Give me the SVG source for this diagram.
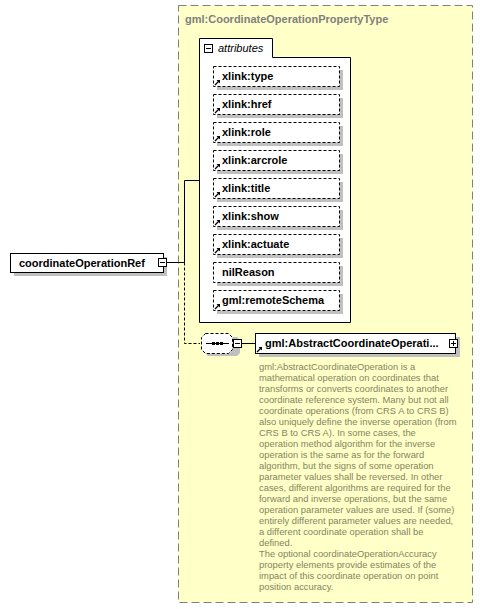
<svg xmlns="http://www.w3.org/2000/svg" width="484" height="609" viewBox="0 0 484 609">
<style>
.lbl{font-family:"Liberation Sans",Arial,sans-serif;font-size:11px;font-weight:bold;fill:#000}
.ttl{font-family:"Liberation Sans",Arial,sans-serif;font-size:11px;font-weight:bold;fill:#808080}
.it{font-family:"Liberation Sans",Arial,sans-serif;font-size:11px;font-style:italic;fill:#000}
.doc{font-family:"Liberation Sans",Arial,sans-serif;font-size:9.4px;fill:#85855e}
.att{fill:#fff;stroke:#000;stroke-width:1;stroke-dasharray:3,2}
.shd{fill:#c0c0c0}
.box{fill:#fff;stroke:#000;stroke-width:1}
.ln{stroke:#000;stroke-width:1;fill:none}
.dl{stroke:#000;stroke-width:1;fill:none;stroke-dasharray:3,2}
</style>
<defs>
<g id="ref">
<path d="M0,5 L4,1" stroke="#000" stroke-width="1.2" fill="none"/>
<path d="M1.5,0 L5,0 L5,3.5 Z" fill="#000"/>
</g>
</defs>
<g id="complexType">
<rect x="178.5" y="5.5" width="294" height="597" fill="#ffffc8" stroke="#808080" stroke-width="1" stroke-dasharray="8,4"/>
<text class="ttl" x="185" y="23">gml:CoordinateOperationPropertyType</text>
</g>
<g id="connectors">
<path class="ln" d="M166,262.5 H184.5 V180.5 H199"/>
<path class="dl" d="M184.5,262.5 V343.5 H200"/>
<path class="ln" d="M233,343.5 H255"/>
</g>
<g id="coordinateOperationRef">
<rect class="shd" x="14" y="257" width="153" height="19"/>
<rect class="box" x="10.5" y="253.5" width="153" height="19"/>
<text class="lbl" x="19" y="267">coordinateOperationRef</text>
<rect class="box" x="158.5" y="258.5" width="8" height="8"/>
<path class="ln" d="M160,262.5 H165"/>
</g>
<g id="attributes">
<path d="M199.5,322.5 V38.5 H272.5 V57.5 H350.5 V322.5 Z" fill="#fff" stroke="#000" stroke-width="1"/>
<rect class="box" x="204.5" y="44.5" width="8" height="8"/>
<path class="ln" d="M206,48.5 H211"/>
<text class="it" x="218" y="52">attributes</text>
</g>
<g id="attr-type"><rect class="shd" x="217" y="70" width="126" height="20"/><rect class="att" x="213.5" y="66.5" width="126" height="20"/><use href="#ref" x="215" y="80"/><text class="lbl" x="222" y="80">xlink:type</text></g>
<g id="attr-href"><rect class="shd" x="217" y="98" width="126" height="20"/><rect class="att" x="213.5" y="94.5" width="126" height="20"/><use href="#ref" x="215" y="108"/><text class="lbl" x="222" y="108">xlink:href</text></g>
<g id="attr-role"><rect class="shd" x="217" y="126" width="126" height="20"/><rect class="att" x="213.5" y="122.5" width="126" height="20"/><use href="#ref" x="215" y="136"/><text class="lbl" x="222" y="136">xlink:role</text></g>
<g id="attr-arcrole"><rect class="shd" x="217" y="154" width="126" height="20"/><rect class="att" x="213.5" y="150.5" width="126" height="20"/><use href="#ref" x="215" y="164"/><text class="lbl" x="222" y="164">xlink:arcrole</text></g>
<g id="attr-title"><rect class="shd" x="217" y="182" width="126" height="20"/><rect class="att" x="213.5" y="178.5" width="126" height="20"/><use href="#ref" x="215" y="192"/><text class="lbl" x="222" y="192">xlink:title</text></g>
<g id="attr-show"><rect class="shd" x="217" y="210" width="126" height="20"/><rect class="att" x="213.5" y="206.5" width="126" height="20"/><use href="#ref" x="215" y="220"/><text class="lbl" x="222" y="220">xlink:show</text></g>
<g id="attr-actuate"><rect class="shd" x="217" y="238" width="126" height="20"/><rect class="att" x="213.5" y="234.5" width="126" height="20"/><use href="#ref" x="215" y="248"/><text class="lbl" x="222" y="248">xlink:actuate</text></g>
<g id="attr-nilReason"><rect class="shd" x="217" y="266" width="126" height="20"/><rect class="att" x="213.5" y="262.5" width="126" height="20"/><text class="lbl" x="222" y="276">nilReason</text></g>
<g id="attr-remoteSchema"><rect class="shd" x="217" y="294" width="126" height="20"/><rect class="att" x="213.5" y="290.5" width="126" height="20"/><use href="#ref" x="215" y="304"/><text class="lbl" x="222" y="304">gml:remoteSchema</text></g>
<g id="sequence">
<path d="M208,337 H237 L240,340 V353 L237,356 H208 L205,353 V340 Z" fill="#c0c0c0"/>
<path d="M205.5,333.5 H228.5 L232.5,337.5 V349.5 L228.5,353.5 H205.5 L201.5,349.5 V337.5 Z" fill="#fff" stroke="#000" stroke-width="1" stroke-dasharray="3,2"/>
<path class="ln" d="M206,343.5 H229"/>
<rect x="212" y="342" width="3" height="3" fill="#000"/>
<rect x="216" y="342" width="3" height="3" fill="#000"/>
<rect x="220" y="342" width="3" height="3" fill="#000"/>
<rect class="box" x="233.5" y="339.5" width="8" height="8"/>
<path class="ln" d="M235,343.5 H240"/>
</g>
<g id="AbstractCoordinateOperation">
<rect class="shd" x="259" y="337" width="201" height="20"/>
<rect class="box" x="255.5" y="333.5" width="200" height="20"/>
<use href="#ref" x="257" y="347"/>
<text class="lbl" x="265" y="347">gml:AbstractCoordinateOperati...</text>
<rect class="box" x="449.5" y="339.5" width="8" height="8"/>
<path class="ln" d="M451,343.5 H456 M453.5,341 V346"/>
</g>
<g id="documentation">
<text class="doc" x="259" y="370">gml:AbstractCoordinateOperation is a</text>
<text class="doc" x="259" y="381">mathematical operation on coordinates that</text>
<text class="doc" x="259" y="392">transforms or converts coordinates to another</text>
<text class="doc" x="259" y="403">coordinate reference system. Many but not all</text>
<text class="doc" x="259" y="414">coordinate operations (from CRS A to CRS B)</text>
<text class="doc" x="259" y="425">also uniquely define the inverse operation (from</text>
<text class="doc" x="259" y="436">CRS B to CRS A). In some cases, the</text>
<text class="doc" x="259" y="447">operation method algorithm for the inverse</text>
<text class="doc" x="259" y="458">operation is the same as for the forward</text>
<text class="doc" x="259" y="469">algorithm, but the signs of some operation</text>
<text class="doc" x="259" y="480">parameter values shall be reversed. In other</text>
<text class="doc" x="259" y="491">cases, different algorithms are required for the</text>
<text class="doc" x="259" y="502">forward and inverse operations, but the same</text>
<text class="doc" x="259" y="513">operation parameter values are used. If (some)</text>
<text class="doc" x="259" y="524">entirely different parameter values are needed,</text>
<text class="doc" x="259" y="535">a different coordinate operation shall be</text>
<text class="doc" x="259" y="546">defined.</text>
<text class="doc" x="259" y="557">The optional coordinateOperationAccuracy</text>
<text class="doc" x="259" y="568">property elements provide estimates of the</text>
<text class="doc" x="259" y="579">impact of this coordinate operation on point</text>
<text class="doc" x="259" y="590">position accuracy.</text>
</g>
</svg>
